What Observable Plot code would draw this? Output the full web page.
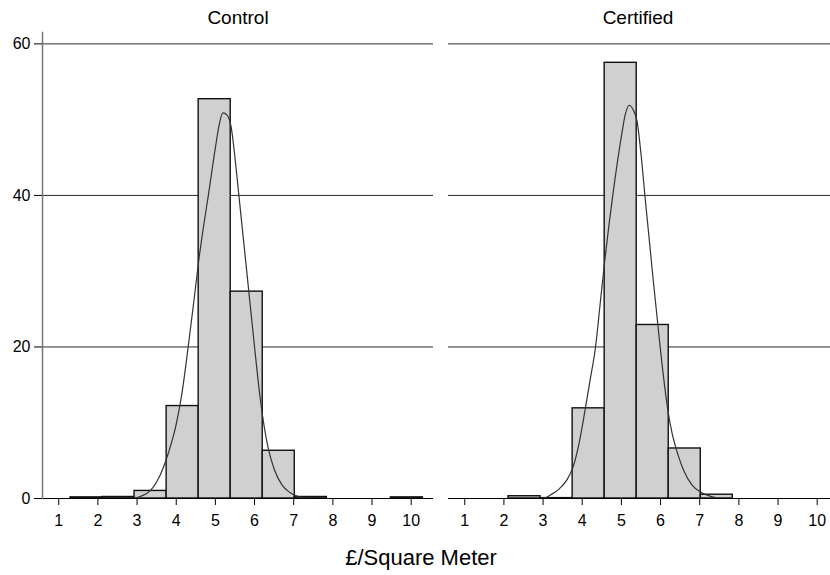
<!DOCTYPE html>
<html>
<head>
<meta charset="utf-8">
<script src="https://cdn.jsdelivr.net/npm/d3@7"></script>
<script src="https://cdn.jsdelivr.net/npm/@observablehq/plot@0.6"></script>
<style>
  html, body { margin: 0; padding: 0; background: #fff; overflow: hidden; }
  #wrap { position: relative; width: 830px; height: 575px; overflow: hidden; font-family: "Liberation Sans", Arial, sans-serif; color: #000; }
  .abs { position: absolute; }
  .title { font-size: 19px; line-height: 19px; white-space: nowrap; transform: translateX(-50%); }
  .xlab { font-size: 22px; line-height: 22px; white-space: nowrap; transform: translateX(-50%); }
</style>
</head>
<body>
<div id="wrap"></div>
<script>
// ---- data ----
const panels = ["Control", "Certified"];
const xLabel = "£/Square Meter";
const xTicks = [1, 2, 3, 4, 5, 6, 7, 8, 9, 10];
const yTicks = [0, 20, 40, 60];
const gridTicks = [20, 40, 60];
const binEdges = [1.3, 2.118, 2.936, 3.755, 4.573, 5.391, 6.209, 7.027, 7.845, 8.664, 9.482, 10.3];
const controlPct   = [0.15, 0.2, 1.0, 12.2, 52.7, 27.3, 6.3, 0.2, 0, 0, 0.15];
const certifiedPct = [0, 0.3, 0.05, 11.9, 57.5, 22.9, 6.6, 0.5, 0, 0, 0];
const controlCurveX = [2.9, 3.1, 3.35, 3.6, 3.8, 4.0, 4.15, 4.3, 4.45, 4.57, 4.7, 4.82, 5.0, 5.1, 5.19, 5.3, 5.4, 5.5, 5.6, 5.8, 6.0, 6.14, 6.35, 6.5, 6.7, 6.9, 7.1, 7.3, 7.5];
const controlCurveY = [0, 0.3, 1.1, 3.2, 6.0, 9.8, 14.0, 19.8, 26.0, 31.2, 36.0, 40, 46.3, 49.4, 50.9, 50.6, 49.1, 45, 40, 30, 20, 13.4, 6.6, 3.9, 1.8, 0.8, 0.3, 0.1, 0];
const certifiedCurveX = [2.9, 3.05, 3.2, 3.4, 3.6, 3.77, 3.9, 4.07, 4.2, 4.34, 4.46, 4.58, 4.78, 5.0, 5.1, 5.2, 5.3, 5.4, 5.5, 5.6, 5.8, 5.99, 6.1, 6.2, 6.3, 6.45, 6.6, 6.8, 7.04, 7.3, 7.55];
const certifiedCurveY = [0, 0.1, 0.5, 1.2, 2.4, 4.2, 6.8, 11.6, 15.6, 20, 25.8, 31.6, 40, 47.8, 50.7, 51.9, 51.3, 49.8, 45.5, 40, 29.5, 20, 15.0, 11.2, 8.5, 5.7, 3.6, 1.8, 0.8, 0.25, 0];

// ---- build tables ----
function binsOf(vals) {
  return vals.map((v, i) => ({x1: binEdges[i], x2: binEdges[i + 1], y: v}));
}
function curveOf(xs, ys) {
  return xs.map((x, i) => ({x, y: ys[i]}));
}

const wrap = document.getElementById("wrap");
const yDomain = [0, 61.5];

function panel({bins, curve, left, width, marginLeft, marginRight, xDomain}) {
  return Plot.plot({
    width, height: 575,
    marginLeft, marginRight, marginTop: 32, marginBottom: 77,
    style: {fontFamily: "'Liberation Sans', Arial, sans-serif", fontSize: "16px", color: "#000", background: "transparent", overflow: "visible"},
    x: {domain: xDomain, axis: null},
    y: {domain: yDomain, axis: null},
    marks: [
      Plot.ruleY(gridTicks, {stroke: "#2a2a2a", strokeWidth: 1}),
      Plot.rectY(bins, {x1: "x1", x2: "x2", y: "y", fill: "#d0d0d0", stroke: "#111", strokeWidth: 1.4, inset: 0}),
      Plot.line(curve, {x: "x", y: "y", stroke: "#333", strokeWidth: 1.2, curve: "monotone-x"}),
      Plot.ruleY([0], {stroke: "#000", strokeWidth: 1.2}),
      Plot.axisX({ticks: xTicks, tickSize: 7, tickPadding: 9, tickFormat: d => String(d), label: null, fontSize: 16}),
      left ? Plot.frame({anchor: "left", stroke: "#777", strokeWidth: 1.5}) : null,
      left ? Plot.axisY({ticks: yTicks, tickSize: 8, tickPadding: 4, tickFormat: d => String(d), label: null, fontSize: 16}) : null
    ]
  });
}

const leftSvg = panel({
  bins: binsOf(controlPct), curve: curveOf(controlCurveX, controlCurveY), left: true,
  width: 440, marginLeft: 42, marginRight: 7, xDomain: [0.585, 10.57]
});
leftSvg.classList.add("abs");
leftSvg.style.left = "0px"; leftSvg.style.top = "0px";
wrap.appendChild(leftSvg);

const rightSvg = panel({
  bins: binsOf(certifiedPct), curve: curveOf(certifiedCurveX, certifiedCurveY), left: false,
  width: 382, marginLeft: 0, marginRight: 0, xDomain: [0.585, 10.34]
});
rightSvg.classList.add("abs");
rightSvg.style.left = "448px"; rightSvg.style.top = "0px";
wrap.appendChild(rightSvg);

function addText(cls, text, x, top) {
  const d = document.createElement("div");
  d.className = "abs " + cls;
  d.textContent = text;
  d.style.left = x + "px";
  d.style.top = top + "px";
  wrap.appendChild(d);
}
addText("title", panels[0], 238, 8);
addText("title", panels[1], 638, 8);
addText("xlab", xLabel, 421, 547);
</script>
</body>
</html>
